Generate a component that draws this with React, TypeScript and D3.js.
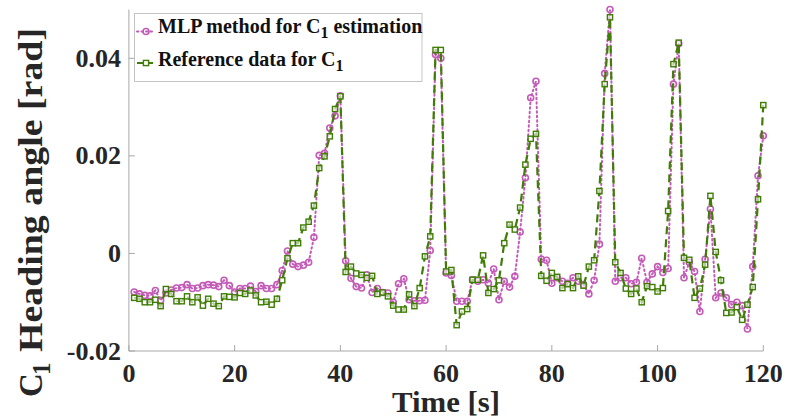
import React from "react";
import * as d3 from "d3";

const times: number[] = d3.range(1, 121);

const mlpValues: number[] = [
  -0.0079, -0.0083, -0.0086, -0.0087, -0.0076, -0.0096, -0.0081, -0.0075, -0.0071, -0.0070,
  -0.0064, -0.0072, -0.0071, -0.0066, -0.0064, -0.0065, -0.0068, -0.0055, -0.0066, -0.0079,
  -0.0072, -0.0072, -0.0067, -0.0078, -0.0066, -0.0072, -0.0072, -0.0064, -0.0035, 0.0005,
  -0.0022, -0.0027, -0.0024, -0.0018, 0.0033, 0.0201, 0.0205, 0.0257, 0.0282, 0.0323,
  -0.0015, -0.0051, -0.0068, -0.0071, -0.0044, -0.0080, -0.0072, -0.0080, -0.0081, -0.0100,
  -0.0062, -0.0052, -0.0095, -0.0097, -0.0097, -0.0096, 0.0006, 0.0408, 0.0400, -0.0040,
  -0.0045, -0.0098, -0.0098, -0.0098, -0.0054, -0.0057, -0.0054, -0.0061, -0.0032, -0.0095,
  -0.0057, -0.0069, -0.0047, 0.0044, 0.0155, 0.0319, 0.0353, -0.0012, -0.0014, -0.0061,
  -0.0050, -0.0057, -0.0061, -0.0050, -0.0057, -0.0064, -0.0083, -0.0055, 0.0019, 0.0369,
  0.0500, -0.0057, -0.0050, -0.0050, -0.0062, -0.0059, -0.0010, -0.0059, -0.0042, -0.0027,
  -0.0039, -0.0031, 0.0347, 0.0430, -0.0050, -0.0018, -0.0037, -0.0119, -0.0012, 0.0091,
  -0.0091, -0.0081, -0.0091, -0.0105, -0.0100, -0.0107, -0.0155, -0.0027, 0.0159, 0.0241,
];

const refValues: number[] = [
  -0.0091, -0.0093, -0.0100, -0.0100, -0.0095, -0.0108, -0.0073, -0.0083, -0.0098, -0.0098,
  -0.0088, -0.0100, -0.0090, -0.0107, -0.0093, -0.0103, -0.0108, -0.0088, -0.0089, -0.0090,
  -0.0081, -0.0083, -0.0076, -0.0086, -0.0100, -0.0099, -0.0105, -0.0093, -0.0055, -0.0010,
  0.0021, 0.0021, 0.0053, 0.0065, 0.0098, 0.0175, 0.0199, 0.0240, 0.0296, 0.0322,
  -0.0038, -0.0027, -0.0041, -0.0044, -0.0050, -0.0046, -0.0083, -0.0080, -0.0088, -0.0107,
  -0.0115, -0.0115, -0.0084, -0.0108, -0.0071, -0.0006, 0.0035, 0.0417, 0.0417, -0.0037,
  -0.0034, -0.0147, -0.0119, -0.0114, -0.0054, -0.0054, -0.0004, -0.0081, -0.0073, -0.0055,
  0.0021, 0.0059, 0.0049, 0.0094, 0.0182, 0.0235, 0.0245, -0.0046, -0.0056, -0.0040,
  -0.0048, -0.0071, -0.0063, -0.0071, -0.0047, -0.0066, -0.0027, -0.0014, 0.0128, 0.0347,
  0.0484, -0.0018, -0.0040, -0.0072, -0.0083, -0.0072, -0.0100, -0.0067, -0.0069, -0.0078,
  -0.0071, 0.0087, 0.0388, 0.0432, -0.0009, -0.0013, -0.0091, -0.0072, -0.0023, 0.0118,
  0.0003, -0.0055, -0.0122, -0.0121, -0.0110, -0.0136, -0.0105, -0.0069, 0.0111, 0.0304,
];

const xTicks: number[] = [0, 20, 40, 60, 80, 100, 120];
const yTicks: number[] = [-0.02, 0, 0.02, 0.04];
const yTickLabels: string[] = ["-0.02", "0", "0.02", "0.04"];
const legendLabels: string[] = ["MLP method for C", "Reference data for C"];

const W = 787;
const H = 420;
const PINK = "#c45ab7";
const GREEN = "#3f7d05";
const AXIS = "#a8a8a8";
const TXT = "#262626";
const FONT = "'Liberation Serif', 'Times New Roman', serif";

export default function App() {
  const x = d3.scaleLinear().domain([0, 120]).range([128.9, 763.3]);
  const y = d3.scaleLinear().domain([-0.02, 0.05]).range([351, 9.5]);

  const mlp = times.map((t, i) => [t, mlpValues[i]] as [number, number]);
  const ref = times.map((t, i) => [t, refValues[i]] as [number, number]);
  const line = d3
    .line<[number, number]>()
    .x((d) => x(d[0]))
    .y((d) => y(d[1]));

  const x0 = x(0);
  const y0 = y(-0.02);

  return (
    <svg
      width={W}
      height={H}
      style={{ position: "absolute", left: 0, top: 0, background: "#fff" }}
      fontFamily={FONT}
    >
      <rect x={0} y={0} width={W} height={H} fill="#fff" />
      {/* axes */}
      <line x1={x0} x2={x0} y1={y(0.05)} y2={y0} stroke={AXIS} strokeWidth={1} />
      <line x1={x0} x2={x(120)} y1={y0} y2={y0} stroke={AXIS} strokeWidth={1} />
      {xTicks.map((t) => (
        <g key={"xt" + t}>
          <line x1={x(t)} x2={x(t)} y1={y0} y2={y0 - 6} stroke={AXIS} strokeWidth={1} />
          <text
            x={x(t)}
            y={382}
            textAnchor="middle"
            fontSize={26}
            fontWeight="bold"
            fill={TXT}
          >
            {t}
          </text>
        </g>
      ))}
      {yTicks.map((v, i) => (
        <g key={"yt" + v}>
          <line x1={x0} x2={x0 + 6} y1={y(v)} y2={y(v)} stroke={AXIS} strokeWidth={1} />
          <text
            x={121}
            y={y(v) + 8.5}
            textAnchor="end"
            fontSize={26}
            fontWeight="bold"
            fill={TXT}
          >
            {yTickLabels[i]}
          </text>
        </g>
      ))}

      {/* axis labels */}
      <text
        x={446}
        y={411.5}
        textAnchor="middle"
        fontSize={29}
        fontWeight="bold"
        fill={TXT}
        textLength={108}
        lengthAdjust="spacingAndGlyphs"
      >
        Time [s]
      </text>
      <g transform="translate(42,397) rotate(-90)">
        <text x={0} y={0} fontSize={33} fontWeight="bold" fill={TXT}>
          C
        </text>
        <text x={22} y={8} fontSize={25} fontWeight="bold" fill={TXT}>
          1
        </text>
        <text
          x={45}
          y={0}
          fontSize={33}
          fontWeight="bold"
          fill={TXT}
          textLength={324}
          lengthAdjust="spacingAndGlyphs"
        >
          Heading angle [rad]
        </text>
      </g>

      {/* series */}
      <path
        d={line(mlp) || ""}
        fill="none"
        stroke={PINK}
        strokeWidth={2}
        strokeDasharray="1.5 3"
        strokeLinecap="round"
      />
      {mlp.map((d, i) => (
        <circle
          key={"m" + i}
          cx={x(d[0])}
          cy={y(d[1])}
          r={3}
          fill="none"
          stroke={PINK}
          strokeWidth={1.6}
        />
      ))}
      <path
        d={line(ref) || ""}
        fill="none"
        stroke={GREEN}
        strokeWidth={2.2}
        strokeDasharray="8 5"
      />
      {ref.map((d, i) => (
        <rect
          key={"r" + i}
          x={x(d[0]) - 2.6}
          y={y(d[1]) - 2.6}
          width={5.2}
          height={5.2}
          fill="#fff"
          fillOpacity={0.6}
          stroke={GREEN}
          strokeWidth={1.4}
        />
      ))}

      {/* legend */}
      <rect x={134.5} y={13.5} width={287.5} height={68} fill="#fff" stroke="#c4c4c4" strokeWidth={1} />
      <line x1={137} x2={155} y1={31.5} y2={31.5} stroke={PINK} strokeWidth={2} strokeDasharray="1.5 3" strokeLinecap="round" />
      <circle cx={146} cy={31.5} r={3} fill="none" stroke={PINK} strokeWidth={1.6} />
      <line x1={137} x2={155} y1={63} y2={63} stroke={GREEN} strokeWidth={2.2} strokeDasharray="6 4" />
      <rect x={143.4} y={60.4} width={5.2} height={5.2} fill="#fff" stroke={GREEN} strokeWidth={1.4} />
      <text x={158} y={33.3} fontSize={20} fontWeight="bold" fill="#111">
        <tspan>{legendLabels[0]}</tspan>
        <tspan dy={5} fontSize={16}>1</tspan>
        <tspan dy={-5}> estimation</tspan>
      </text>
      <text x={158} y={66} fontSize={20} fontWeight="bold" fill="#111">
        <tspan>{legendLabels[1]}</tspan>
        <tspan dy={5} fontSize={16}>1</tspan>
      </text>
    </svg>
  );
}
